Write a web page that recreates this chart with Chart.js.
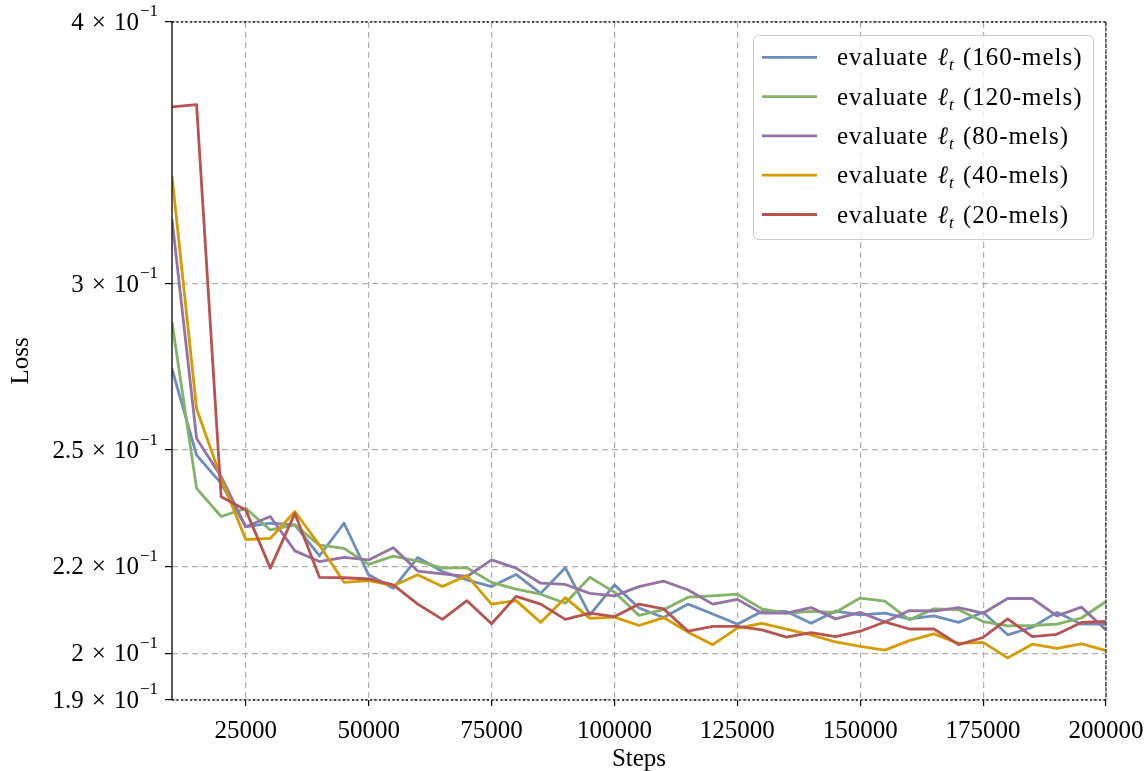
<!DOCTYPE html>
<html>
<head>
<meta charset="utf-8">
<script src="https://cdn.jsdelivr.net/npm/chart.js@4/dist/chart.umd.min.js"></script>
<style>
  html, body { margin: 0; padding: 0; background: #fff; }
  #wrap { width: 1148px; height: 771px; }
</style>
</head>
<body>
<div id="wrap"><canvas id="lossChart" width="1148" height="771"></canvas></div>
<script>
// --- data ---
const steps = [10000, 15000, 20000, 25000, 30000, 35000, 40000, 45000, 50000, 55000,
    60000, 65000, 70000, 75000, 80000, 85000, 90000, 95000, 100000, 105000,
    110000, 115000, 120000, 125000, 130000, 135000, 140000, 145000, 150000, 155000,
    160000, 165000, 170000, 175000, 180000, 185000, 190000, 195000, 200000];

const mels160 = [0.2733, 0.2486, 0.2410, 0.2298, 0.2307, 0.2303, 0.2226, 0.2307, 0.2180, 0.2148,
    0.2222, 0.2188, 0.2168, 0.2152, 0.2181, 0.2136, 0.2197, 0.2086, 0.2156, 0.2102,
    0.2080, 0.2111, 0.2088, 0.2065, 0.2094, 0.2094, 0.2067, 0.2095, 0.2086, 0.2090,
    0.2077, 0.2084, 0.2069, 0.2092, 0.2041, 0.2058, 0.2092, 0.2065, 0.2065];
const mels120 = [0.2877, 0.2397, 0.2324, 0.2345, 0.2290, 0.2303, 0.2252, 0.2244, 0.2205, 0.2225,
    0.2213, 0.2196, 0.2197, 0.2162, 0.2146, 0.2134, 0.2113, 0.2174, 0.2139, 0.2085,
    0.2098, 0.2127, 0.2130, 0.2134, 0.2100, 0.2090, 0.2094, 0.2092, 0.2125, 0.2118,
    0.2075, 0.2100, 0.2098, 0.2071, 0.2061, 0.2062, 0.2065, 0.2079, 0.2117];
const mels80 = [0.3221, 0.2532, 0.2428, 0.2298, 0.2324, 0.2238, 0.2212, 0.2222, 0.2216, 0.2246,
    0.2189, 0.2182, 0.2176, 0.2216, 0.2196, 0.2160, 0.2157, 0.2136, 0.2130, 0.2152,
    0.2165, 0.2144, 0.2111, 0.2122, 0.2090, 0.2090, 0.2103, 0.2077, 0.2092, 0.2070,
    0.2096, 0.2095, 0.2103, 0.2090, 0.2124, 0.2124, 0.2084, 0.2104, 0.2052];
const mels40 = [0.3378, 0.2616, 0.2423, 0.2266, 0.2269, 0.2337, 0.2252, 0.2162, 0.2166, 0.2154,
    0.2180, 0.2152, 0.2178, 0.2111, 0.2119, 0.2069, 0.2126, 0.2078, 0.2081, 0.2062,
    0.2080, 0.2047, 0.2019, 0.2056, 0.2067, 0.2054, 0.2041, 0.2025, 0.2015, 0.2007,
    0.2028, 0.2043, 0.2022, 0.2024, 0.1990, 0.2020, 0.2011, 0.2021, 0.2006];
const mels20 = [0.3644, 0.3653, 0.2375, 0.2341, 0.2196, 0.2332, 0.2174, 0.2173, 0.2170, 0.2156,
    0.2111, 0.2076, 0.2119, 0.2066, 0.2129, 0.2111, 0.2076, 0.2090, 0.2082, 0.2111,
    0.2100, 0.2049, 0.2060, 0.2060, 0.2052, 0.2036, 0.2046, 0.2037, 0.2049, 0.2070,
    0.2054, 0.2054, 0.2019, 0.2035, 0.2077, 0.2037, 0.2042, 0.2069, 0.2071];

const seriesNames = ['160-mels', '120-mels', '80-mels', '40-mels', '20-mels'];
const seriesValues = [mels160, mels120, mels80, mels40, mels20];
const seriesColors = ['#6c8ebf', '#82b366', '#9673a6', '#d79b00', '#b85450'];

const xTicks = [25000, 50000, 75000, 100000, 125000, 150000, 175000, 200000];
const yTicks = [0.19, 0.2, 0.22, 0.25, 0.3, 0.4];

const FONT = "'Liberation Serif', 'DejaVu Serif', serif";

// y tick labels in "m × 10^-1" form
const yLabelPlugin = {
    id: 'yLabels',
    afterDraw(chart) {
        const ctx = chart.ctx;
        const y = chart.scales.y;
        ctx.save();
        ctx.letterSpacing = '0px';
        ctx.fillStyle = '#000';
        ctx.textBaseline = 'middle';
        ctx.textAlign = 'right';
        yTicks.forEach(v => {
            const py = y.getPixelForValue(v);
            const mant = parseFloat((v * 10).toFixed(2)).toString();
            let right = 158;
            ctx.font = '17px ' + FONT;
            ctx.fillText('\u22121', right, py - 10);
            right -= ctx.measureText('\u22121').width + 1;
            ctx.font = '25px ' + FONT;
            ctx.fillText('10', right, py + 1);
            right -= ctx.measureText('10').width + 8;
            ctx.fillText('\u00d7', right, py + 1);
            right -= ctx.measureText('\u00d7').width + 8;
            ctx.fillText(mant, right, py + 1);
        });
        ctx.restore();
    }
};

// axis frame: solid left, dotted top/bottom, dashed right
const framePlugin = {
    id: 'frame',
    afterDatasetsDraw(chart) {
        const {ctx, chartArea: a} = chart;
        const seg = (x1, y1, x2, y2, dash, color) => {
            ctx.beginPath();
            ctx.setLineDash(dash);
            ctx.strokeStyle = color;
            ctx.moveTo(x1, y1);
            ctx.lineTo(x2, y2);
            ctx.stroke();
        };
        ctx.save();
        ctx.lineWidth = 1.3;
        seg(a.left, a.top, a.right, a.top, [2, 2.5], '#111');
        seg(a.left, a.bottom, a.right, a.bottom, [2, 2.5], '#111');
        seg(a.right, a.top, a.right, a.bottom, [4, 1.5], '#333');
        seg(a.left, a.top, a.left, a.bottom, [], '#000');
        ctx.restore();
    }
};

// legend box in the upper right of the plot
const legendPlugin = {
    id: 'boxLegend',
    afterDraw(chart) {
        const ctx = chart.ctx;
        const bx = 753, by = 35, bw = 340, bh = 204, r = 5;
        ctx.save();
        ctx.beginPath();
        ctx.roundRect(bx + 0.5, by + 0.5, bw, bh, r);
        ctx.fillStyle = 'rgba(255,255,255,0.8)';
        ctx.fill();
        ctx.lineWidth = 1;
        ctx.strokeStyle = '#cccccc';
        ctx.stroke();

        ctx.letterSpacing = '1px';
        chart.data.datasets.forEach((ds, i) => {
            const rowY = 57.3 + i * 39.3;
            ctx.beginPath();
            ctx.setLineDash([]);
            ctx.lineWidth = 2.8;
            ctx.strokeStyle = ds.borderColor;
            ctx.moveTo(762, rowY);
            ctx.lineTo(817, rowY);
            ctx.stroke();

            const base = rowY + 8;
            let x = 837;
            ctx.fillStyle = '#000';
            ctx.textBaseline = 'alphabetic';
            ctx.textAlign = 'left';
            ctx.font = '25px ' + FONT;
            ctx.fillText('evaluate ', x, base);
            x += ctx.measureText('evaluate ').width + 2;
            ctx.font = 'italic 25px ' + FONT;
            ctx.fillText('\u2113', x, base);
            x += ctx.measureText('\u2113').width;
            ctx.font = 'italic 17px ' + FONT;
            ctx.fillText('t', x, base + 5);
            x += ctx.measureText('t').width + 1;
            ctx.font = '25px ' + FONT;
            ctx.fillText(' (' + seriesNames[i] + ')', x, base);
        });
        ctx.letterSpacing = '0px';
        ctx.restore();
    }
};

const datasets = seriesValues.map((vals, i) => ({
    label: 'evaluate \u2113t (' + seriesNames[i] + ')',
    data: vals.map((v, k) => ({x: steps[k], y: v})),
    borderColor: seriesColors[i],
    backgroundColor: seriesColors[i],
    borderWidth: 2.8,
    pointRadius: 0,
    tension: 0,
    fill: false,
    borderJoinStyle: 'round',
    order: seriesValues.length - 1 - i
}));

new Chart(document.getElementById('lossChart'), {
    type: 'line',
    data: { datasets },
    options: {
        responsive: false,
        animation: false,
        devicePixelRatio: 1,
        layout: { padding: { top: 22, right: 42, left: 0, bottom: 0 } },
        plugins: {
            legend: { display: false },
            tooltip: { enabled: false }
        },
        scales: {
            x: {
                type: 'linear',
                min: 10000,
                max: 200000,
                afterBuildTicks: s => { s.ticks = xTicks.map(v => ({value: v})); },
                // fixed axis height; the last label may hang into the right margin
                afterFit: s => { s.height = 71; s.paddingLeft = 0; s.paddingRight = 0; },
                ticks: {
                    autoSkip: false,
                    maxRotation: 0,
                    padding: 10,
                    color: '#000',
                    font: { family: FONT, size: 25 },
                    callback: v => String(v)
                },
                grid: {
                    color: '#b0b0b0',
                    lineWidth: 1.2,
                    tickColor: '#000',
                    tickWidth: 1.2,
                    tickLength: 6,
                    tickBorderDash: []
                },
                border: { display: false, dash: [6, 4] },
                title: {
                    display: true,
                    text: 'Steps',
                    color: '#000',
                    font: { family: FONT, size: 25 },
                    padding: { top: 0, bottom: -3 }
                }
            },
            y: {
                type: 'logarithmic',
                min: 0.19,
                max: 0.4,
                afterBuildTicks: s => { s.ticks = yTicks.map(v => ({value: v})); },
                afterFit: s => { s.width = 172; },
                ticks: { display: false },
                grid: {
                    color: '#b0b0b0',
                    lineWidth: 1.2,
                    tickColor: '#000',
                    tickWidth: 1.2,
                    tickLength: 7,
                    tickBorderDash: []
                },
                border: { display: false, dash: [6, 4] },
                title: {
                    display: true,
                    text: 'Loss',
                    color: '#000',
                    font: { family: FONT, size: 25 },
                    padding: { top: 6, bottom: 0 }
                }
            }
        }
    },
    plugins: [framePlugin, yLabelPlugin, legendPlugin]
});
</script>
</body>
</html>
